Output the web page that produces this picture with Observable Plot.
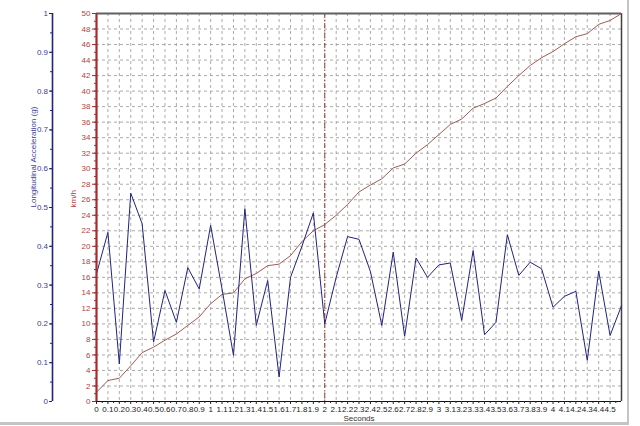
<!DOCTYPE html>
<html>
<head>
<meta charset="utf-8">
<script src="https://cdn.jsdelivr.net/npm/d3@7"></script>
<script src="https://cdn.jsdelivr.net/npm/@observablehq/plot@0.6"></script>
<style>
  html, body { margin: 0; padding: 0; background: #fff; }
  #wrap { position: relative; width: 640px; height: 426px; overflow: hidden; }
  #edge { position: absolute; left: 0; top: 0; width: 627px; height: 422px;
          border-right: 2px solid #c4c4c4; border-bottom: 3px solid #c4c4c4; pointer-events: none; }
</style>
</head>
<body>
<div id="wrap"><div id="edge"></div></div>
<script>
const seconds = [0,0.1,0.2,0.3,0.4,0.5,0.6,0.7,0.8,0.9,1,1.1,1.2,1.3,1.4,1.5,1.6,1.7,1.8,1.9,2,2.1,2.2,2.3,2.4,2.5,2.6,2.7,2.8,2.9,3,3.1,3.2,3.3,3.4,3.5,3.6,3.7,3.8,3.9,4,4.1,4.2,4.3,4.4,4.5,4.6];
const accelG = [0.329,0.436,0.097,0.537,0.458,0.153,0.286,0.204,0.345,0.290,0.454,0.29,0.119,0.497,0.196,0.312,0.063,0.320,0.40,0.486,0.200,0.32,0.425,0.418,0.335,0.196,0.385,0.168,0.370,0.320,0.352,0.357,0.209,0.389,0.172,0.204,0.430,0.325,0.359,0.342,0.243,0.271,0.284,0.106,0.336,0.170,0.247];
const speedKmh = [1.2,2.7,3.0,4.6,6.3,7.0,7.9,8.7,9.8,10.9,12.6,13.8,14.0,15.8,16.5,17.5,17.7,18.8,20.6,22.0,22.8,24.0,25.4,27.0,27.9,28.7,30.1,30.6,32.0,33.1,34.4,35.7,36.4,37.8,38.4,39.1,40.6,42.0,43.3,44.3,45.1,46.1,47.0,47.4,48.6,49.1,50.0];
const accTicks = [0,0.1,0.2,0.3,0.4,0.5,0.6,0.7,0.8,0.9,1];
const accLabels = ["0","0.1","0.2","0.3","0.4","0.5","0.6","0.7","0.8","0.9","1"];
const speedTicks = [0,2,4,6,8,10,12,14,16,18,20,22,24,26,28,30,32,34,36,38,40,42,44,46,48,50];
const secondTicks = [0,0.1,0.2,0.3,0.4,0.5,0.6,0.7,0.8,0.9,1,1.1,1.2,1.3,1.4,1.5,1.6,1.7,1.8,1.9,2,2.1,2.2,2.3,2.4,2.5,2.6,2.7,2.8,2.9,3,3.1,3.2,3.3,3.4,3.5,3.6,3.7,3.8,3.9,4,4.1,4.2,4.3,4.4,4.5];
const secondLabels = ["0","0.1","0.2","0.3","0.4","0.5","0.6","0.7","0.8","0.9","1","1.1","1.2","1.3","1.4","1.5","1.6","1.7","1.8","1.9","2","2.1","2.2","2.3","2.4","2.5","2.6","2.7","2.8","2.9","3","3.1","3.2","3.3","3.4","3.5","3.6","3.7","3.8","3.9","4","4.1","4.2","4.3","4.4","4.5"];
const markerSeconds = [2];
const accTitle = "Longitudinal Acceleration (g)";
const speedTitle = "km/h";
const xTitle = "Seconds";

const G_TO_KMH = 50; // acceleration 0..1 g shares the 0..50 km/h vertical extent
const rows = seconds.map((t, i) => ({t, acc: accelG[i], speed: speedKmh[i]}));
const xMax = seconds[seconds.length - 1];
const gridX = seconds;
const accMinor = d3.range(0, 1.0001, 0.05);
const speedMinor = d3.range(0, 51, 1);
const xMinor = d3.range(0.05, xMax, 0.1);

const blue = "#23237f";
const blueText = "#3d3d8f";
const red = "#a82a2a";
const redText = "#b34141";

const chart = Plot.plot({
  width: 640,
  height: 426,
  marginLeft: 96,
  marginRight: 19,
  marginTop: 13,
  marginBottom: 25,
  style: {fontFamily: "'Liberation Sans', Arial, sans-serif", fontSize: "8px", background: "transparent"},
  x: {domain: [0, xMax], axis: null, label: null},
  y: {domain: [0, 50], axis: null, label: null},
  marks: [
    Plot.gridX(gridX, {stroke: "#959595", strokeOpacity: 1, strokeDasharray: "3,3", strokeWidth: 0.8}),
    Plot.gridY(speedTicks, {stroke: "#959595", strokeOpacity: 1, strokeDasharray: "3,3", strokeWidth: 0.8}),
    Plot.ruleX(markerSeconds, {stroke: "#a03333", strokeDasharray: "5,2,1,2", strokeWidth: 1}),
    Plot.ruleY([50], {stroke: "#606060", strokeWidth: 2}),
    Plot.ruleX([xMax], {stroke: "#404040", strokeWidth: 1.5}),
    Plot.line(rows, {x: "t", y: "speed", stroke: "#a35a55", strokeWidth: 1}),
    Plot.line(rows, {x: "t", y: d => d.acc * G_TO_KMH, stroke: blue, strokeWidth: 1}),
    Plot.ruleY([0], {stroke: "#111", strokeWidth: 1.2}),
    // x axis
    Plot.axisX(secondTicks, {anchor: "bottom", label: null, tickSize: 3, tickPadding: 1.5, fill: "#222", stroke: "#222",
      tickFormat: d => secondLabels[secondTicks.indexOf(d)]}),
    Plot.axisX(xMinor, {anchor: "bottom", label: null, tickSize: 2, tickFormat: () => "", stroke: "#222"}),
    // km/h axis
    Plot.axisY(speedMinor, {anchor: "left", label: null, tickSize: 2, tickFormat: () => "", stroke: red}),
    Plot.axisY(speedTicks, {anchor: "left", label: null, tickSize: 4, tickPadding: 2, stroke: red, fill: redText}),
    Plot.ruleX([0], {stroke: red, strokeWidth: 2.2}),
    // acceleration axis
    Plot.axisY(accMinor.map(v => v * G_TO_KMH), {anchor: "left", label: null, dx: -44, tickSize: 2, tickFormat: () => "", stroke: blue}),
    Plot.axisY(accTicks.map(v => v * G_TO_KMH), {anchor: "left", label: null, dx: -44, tickSize: 3, tickPadding: 1.5, stroke: blue, fill: blueText,
      tickFormat: d => accLabels[accTicks.findIndex(v => Math.abs(v * G_TO_KMH - d) < 1e-6)]}),
    Plot.ruleX([0], {y1: 0, y2: 50, dx: -44, stroke: blue, strokeWidth: 1.6}),
    // titles
    Plot.text([accTitle], {frameAnchor: "left", dx: -63, rotate: -90, fill: blueText, fontSize: 8}),
    Plot.text([speedTitle], {frameAnchor: "left", dx: -23, rotate: -90, fill: redText, fontSize: 8}),
    Plot.text([xTitle], {frameAnchor: "bottom", dy: 19, fill: "#333", fontSize: 8})
  ]
});
document.getElementById("wrap").prepend(chart);
</script>
</body>
</html>
